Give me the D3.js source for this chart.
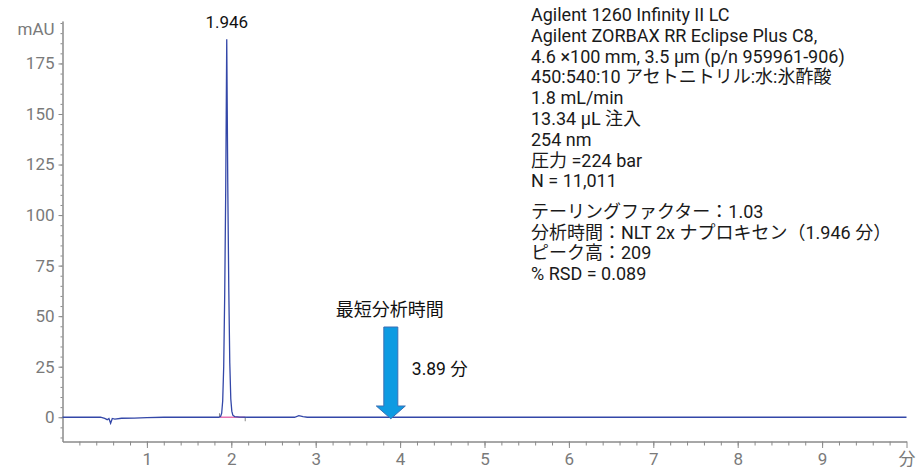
<!DOCTYPE html>
<html>
<head>
<meta charset="utf-8">
<script src="https://cdn.jsdelivr.net/npm/d3@7"></script>
<style>
	body { margin: 0; background: #fff; }
	svg { display: block; font-family: Roboto, "Noto Sans CJK JP", sans-serif; }
	.axis path, .axis line { stroke: #8a8a8a; }
	.axis text { fill: #7a7a7a; font-size: 17px; font-family: Roboto, "Noto Sans CJK JP", sans-serif; }
	.info { fill: #1a1a1a; font-size: 18px; }
</style>
</head>
<body>
<svg width="919" height="468"></svg>
<script>
// chromatogram (min, mAU)
const times = [0, 0.45, 0.5, 0.53, 0.55, 0.57, 0.59, 0.62, 0.7, 0.85, 1.0, 1.2, 1.5, 1.85, 1.862, 1.874, 1.886, 1.898, 1.910, 1.922, 1.934, 1.940, 1.946, 1.952, 1.958, 1.970, 1.982, 1.994, 2.006, 2.018, 2.04, 2.1, 2.2, 2.75, 2.8, 2.85, 2.9, 4.0, 6.0, 8.0, 10.0];
const signal = [0, 0, -0.6, -1.2, -0.6, -3, -0.6, -0.9, -0.5, -0.4, -0.2, 0, 0, 0, 0.2, 0.5, 2, 8, 25, 61, 113, 150, 187, 152, 116, 64, 27, 9, 3, 1, 0.3, 0.1, 0, 0, 0.8, 0.3, 0, 0, 0, 0, 0];

const x_major = [1, 2, 3, 4, 5, 6, 7, 8, 9, 10];
const x_labels = ["1", "2", "3", "4", "5", "6", "7", "8", "9", "分"];
const y_major = [0, 25, 50, 75, 100, 125, 150, 175];

const peak_time = 1.946;
const peak_label = "1.946";
const baseline_range = [1.86, 2.165];
const min_time = 3.89;
const min_label = "最短分析時間";
const min_time_label = "3.89 分";

const info_lines_1 = [
	"Agilent 1260 Infinity II LC",
	"Agilent ZORBAX RR Eclipse Plus C8,",
	"4.6 ×100 mm, 3.5 µm (p/n 959961-906)",
	"450:540:10 アセトニトリル:水:氷酢酸",
	"1.8 mL/min",
	"13.34 µL 注入",
	"254 nm",
	"圧力 =224 bar",
	"N = 11,011"
];
const info_lines_2 = [
	"テーリングファクター：1.03",
	"分析時間：NLT 2x ナプロキセン（1.946 分）",
	"ピーク高：209",
	"% RSD = 0.089"
];

const svg = d3.select("svg");
const plot_left = 62.5, plot_right = 906.5, plot_top = 21, plot_bottom = 441.5;

const x = d3.scaleLinear().domain([0, 10]).range([plot_left, plot_right]);
const y = d3.scaleLinear().domain([-12, 196]).range([plot_bottom, plot_top]);

// minor ticks
svg.append("g")
	.attr("class", "axis")
	.attr("transform", "translate(0," + plot_bottom + ")")
	.call(d3.axisBottom(x).tickValues(d3.range(0.2, 10, 0.2)).tickSize(4).tickFormat("").tickSizeOuter(0));
svg.append("g")
	.attr("class", "axis")
	.attr("transform", "translate(" + plot_left + ",0)")
	.call(d3.axisLeft(y).tickValues(d3.range(-10, 196, 5)).tickSize(2).tickFormat("").tickSizeOuter(0));

// major ticks
svg.append("g")
	.attr("class", "axis")
	.attr("transform", "translate(0," + plot_bottom + ")")
	.call(d3.axisBottom(x).tickValues(x_major).tickSize(6.5).tickPadding(5).tickSizeOuter(0)
		.tickFormat((d, i) => x_labels[i]));
svg.append("g")
	.attr("class", "axis")
	.attr("transform", "translate(" + plot_left + ",0)")
	.call(d3.axisLeft(y).tickValues(y_major).tickSize(4).tickPadding(4).tickSizeOuter(0));

svg.append("text")
	.attr("x", plot_left - 8)
	.attr("y", 35)
	.attr("text-anchor", "end")
	.attr("fill", "#7a7a7a")
	.attr("font-size", "17px")
	.text("mAU");

// integration baseline
svg.append("line")
	.attr("x1", x(baseline_range[0])).attr("x2", x(baseline_range[1]))
	.attr("y1", y(0)).attr("y2", y(0))
	.attr("stroke", "#e874b0").attr("stroke-width", 1.5);
svg.append("line")
	.attr("x1", x(baseline_range[0])).attr("x2", x(baseline_range[0]))
	.attr("y1", y(0)).attr("y2", y(0) - 4)
	.attr("stroke", "#888");
svg.append("line")
	.attr("x1", x(baseline_range[1])).attr("x2", x(baseline_range[1]))
	.attr("y1", y(0)).attr("y2", y(0) + 4)
	.attr("stroke", "#888");

const line = d3.line()
	.x((d, i) => x(times[i]))
	.y((d) => y(d));

svg.append("path")
	.datum(signal)
	.attr("d", line)
	.attr("fill", "none")
	.attr("stroke", "#3347a8")
	.attr("stroke-width", 1.3);

svg.append("text")
	.attr("x", x(peak_time))
	.attr("y", 28)
	.attr("text-anchor", "middle")
	.attr("fill", "#111")
	.attr("font-size", "17px")
	.text(peak_label);

// arrow for shortest run time
const ax = x(min_time);
const tip = y(0) + 1.5;
const arrow = [
	[ax - 7, 327], [ax + 7, 327], [ax + 7, 406], [ax + 14.5, 406],
	[ax, tip], [ax - 14.5, 406], [ax - 7, 406]
];
svg.append("path")
	.attr("d", d3.line()(arrow) + "Z")
	.attr("fill", "#0e9be2")
	.attr("stroke", "#3b6fb4")
	.attr("stroke-width", 1);

svg.append("text")
	.attr("x", ax - 1)
	.attr("y", 316)
	.attr("text-anchor", "middle")
	.attr("fill", "#111")
	.attr("font-size", "18px")
	.text(min_label);
svg.append("text")
	.attr("x", ax + 21)
	.attr("y", 375)
	.attr("fill", "#111")
	.attr("font-size", "17.5px")
	.text(min_time_label);

// method info
info_lines_1.forEach((t, i) => {
	svg.append("text")
		.attr("class", "info")
		.attr("x", 531)
		.attr("y", 21 + i * 20.8)
		.text(t);
});
info_lines_2.forEach((t, i) => {
	svg.append("text")
		.attr("class", "info")
		.attr("x", 531)
		.attr("y", 218 + i * 20.7)
		.text(t);
});
</script>
</body>
</html>
